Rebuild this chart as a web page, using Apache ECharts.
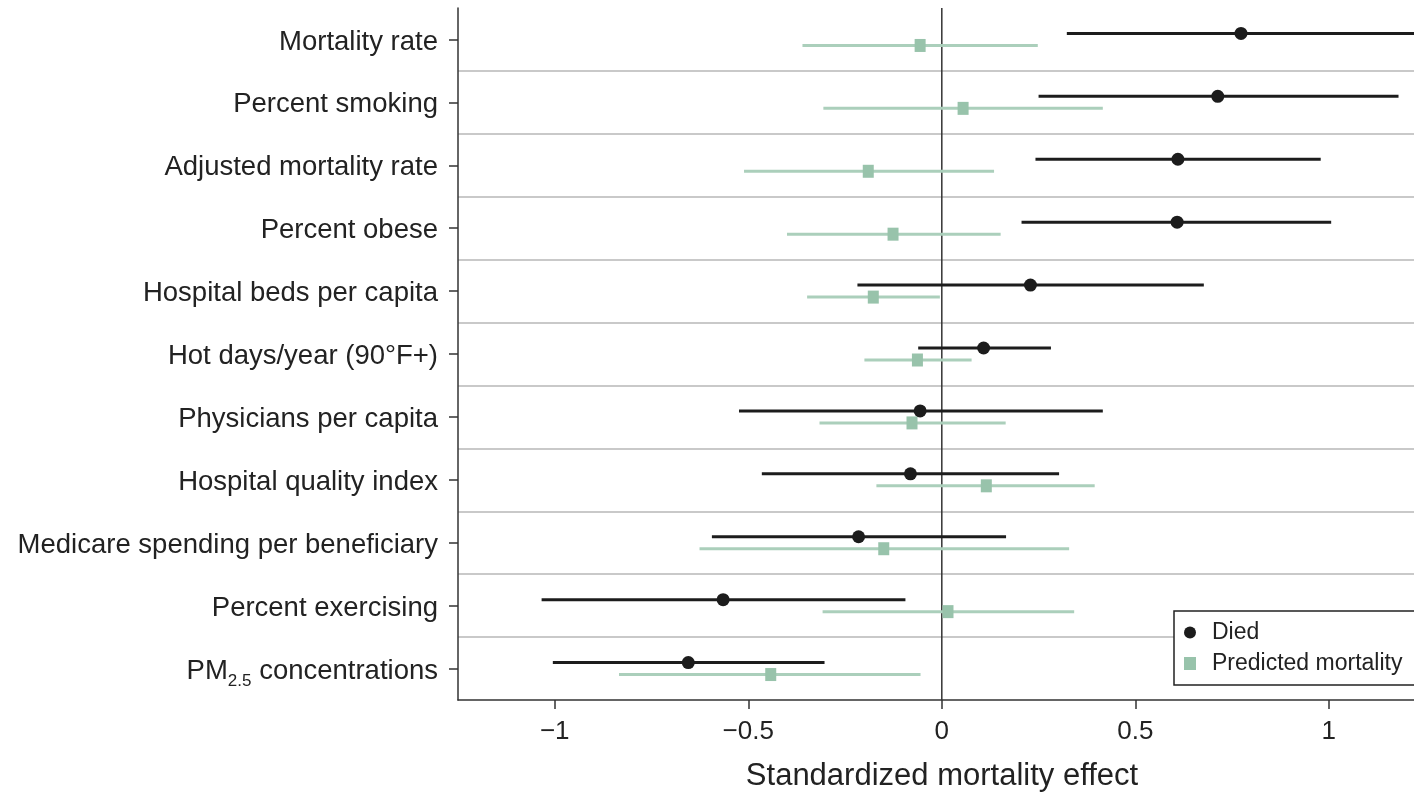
<!DOCTYPE html>
<html>
<head>
<meta charset="utf-8">
<script src="https://cdn.jsdelivr.net/npm/echarts@6/dist/echarts.min.js"></script>
<style>
html,body{margin:0;padding:0;background:#fff;overflow:hidden;}
#chart{width:1414px;height:798px;}
</style>
</head>
<body>
<div id="chart"></div>
<script>
const categories = ['Mortality rate','Percent smoking','Adjusted mortality rate','Percent obese','Hospital beds per capita','Hot days/year (90°F+)','Physicians per capita','Hospital quality index','Medicare spending per beneficiary','Percent exercising','PM2.5 concentrations'];

const diedEst = [0.773, 0.713, 0.610, 0.608, 0.229, 0.108, -0.056, -0.081, -0.215, -0.565, -0.655];
const diedLo  = [0.323, 0.250, 0.242, 0.206, -0.218, -0.061, -0.524, -0.465, -0.594, -1.034, -1.005];
const diedHi  = [1.230, 1.180, 0.979, 1.006, 0.677, 0.282, 0.416, 0.303, 0.166, -0.094, -0.303];

const predEst = [-0.056, 0.055, -0.190, -0.126, -0.177, -0.063, -0.077, 0.115, -0.150, 0.016, -0.442];
const predLo  = [-0.360, -0.306, -0.511, -0.400, -0.348, -0.200, -0.316, -0.169, -0.626, -0.308, -0.834];
const predHi  = [0.248, 0.416, 0.135, 0.152, -0.005, 0.077, 0.165, 0.395, 0.329, 0.342, -0.055];

const xTicks = [-1, -0.5, 0, 0.5, 1];

const FONT = "'Liberation Sans', Arial, Helvetica, sans-serif";
const BLACK = '#1c1c1c';
const GREEN_LINE = '#abcfbb';
const GREEN_MARK = '#98c3ab';

const diedData = categories.map((c, i) => [diedLo[i], diedEst[i], diedHi[i], i]);
const predData = categories.map((c, i) => [predLo[i], predEst[i], predHi[i], i]);

function makeRender(offset, lineColor, markColor, shape) {
  return function (params, api) {
    const idx = api.value(3);
    const lo = api.coord([api.value(0), idx]);
    const est = api.coord([api.value(1), idx]);
    const hi = api.coord([api.value(2), idx]);
    const y = est[1] + offset;
    const children = [{
      type: 'line',
      shape: { x1: lo[0], y1: y, x2: hi[0], y2: y },
      style: { stroke: lineColor, lineWidth: 3 }
    }];
    if (shape === 'circle') {
      children.push({ type: 'circle', shape: { cx: est[0], cy: y, r: 6.5 }, style: { fill: markColor } });
    } else {
      children.push({ type: 'rect', shape: { x: est[0] - 5.5, y: y - 6.5, width: 11, height: 13 }, style: { fill: markColor } });
    }
    return { type: 'group', children: children };
  };
}

const chart = echarts.init(document.getElementById('chart'), null, { renderer: 'canvas' });

chart.setOption({
  backgroundColor: '#ffffff',
  animation: false,
  textStyle: { fontFamily: FONT },
  grid: { left: 458, right: 0, top: 8, bottom: 98, containLabel: false },
  legend: {
    orient: 'vertical',
    left: 1174,
    top: 611,
    backgroundColor: '#ffffff',
    borderColor: '#222',
    borderWidth: 1.5,
    borderRadius: 0,
    padding: [10, 30, 10, 10],
    itemGap: 8,
    itemWidth: 12,
    itemHeight: 13,
    textStyle: { fontSize: 23, color: '#222', fontFamily: FONT, padding: [0, 0, 0, 11] },
    data: [
      { name: 'Died', icon: 'circle' },
      { name: 'Predicted mortality', icon: 'rect' }
    ]
  },
  xAxis: {
    type: 'value',
    min: -1.25,
    max: 1.22,
    name: 'Standardized mortality effect',
    nameLocation: 'middle',
    nameGap: 61,
    nameTextStyle: { fontSize: 31, color: '#222', fontFamily: FONT, padding: [0, 0, 0, 12] },
    axisLine: { show: true, onZero: false, lineStyle: { color: '#333', width: 1.5 } },
    axisTick: { show: true, length: 9, customValues: xTicks, lineStyle: { color: '#333', width: 1.5 } },
    axisLabel: {
      customValues: xTicks,
      fontSize: 26,
      color: '#222',
      margin: 19,
      fontFamily: FONT,
      formatter: v => (v < 0 ? '\u2212' : '') + Math.abs(v)
    },
    splitLine: { show: false }
  },
  yAxis: [
    {
      type: 'category',
      data: categories,
      inverse: true,
      boundaryGap: true,
      axisLine: { show: true, onZero: false, lineStyle: { color: '#333', width: 1.5 } },
      axisTick: { show: true, alignWithLabel: true, length: 9, lineStyle: { color: '#333', width: 1.5 } },
      splitLine: { show: true, showMinLine: false, showMaxLine: false, lineStyle: { color: '#c9c9c9', width: 2 } },
      axisLabel: {
        margin: 20,
        fontSize: 27.5,
        color: '#222',
        fontFamily: FONT,
        padding: [5, 0, 0, 0],
        formatter: function (v) {
          if (v.indexOf('PM2.5') === 0) {
            return '{n|PM}{s|2.5}{n|' + v.slice(5) + '}';
          }
          return '{n|' + v + '}';
        },
        rich: {
          n: { fontSize: 27.5, color: '#222', fontFamily: FONT, lineHeight: 38, verticalAlign: 'middle' },
          s: { fontSize: 17, color: '#222', fontFamily: FONT, lineHeight: 18, verticalAlign: 'bottom' }
        }
      }
    },
    {
      type: 'value',
      min: -0.5,
      max: 10.5,
      inverse: true,
      show: false,
      axisLine: { onZero: false }
    }
  ],
  series: [
    {
      name: 'zero',
      type: 'line',
      yAxisIndex: 1,
      data: [[0, -0.5], [0, 10.5]],
      showSymbol: false,
      symbol: 'none',
      silent: true,
      lineStyle: { color: '#333', width: 1.5 },
      z: 1
    },
    {
      name: 'Died',
      type: 'custom',
      yAxisIndex: 0,
      data: diedData,
      encode: { x: [0, 1, 2], y: 3 },
      itemStyle: { color: BLACK },
      renderItem: makeRender(-6, BLACK, BLACK, 'circle'),
      z: 3
    },
    {
      name: 'Predicted mortality',
      type: 'custom',
      yAxisIndex: 0,
      data: predData,
      encode: { x: [0, 1, 2], y: 3 },
      itemStyle: { color: GREEN_MARK },
      renderItem: makeRender(6, GREEN_LINE, GREEN_MARK, 'rect'),
      z: 2
    }
  ]
});
</script>
</body>
</html>
